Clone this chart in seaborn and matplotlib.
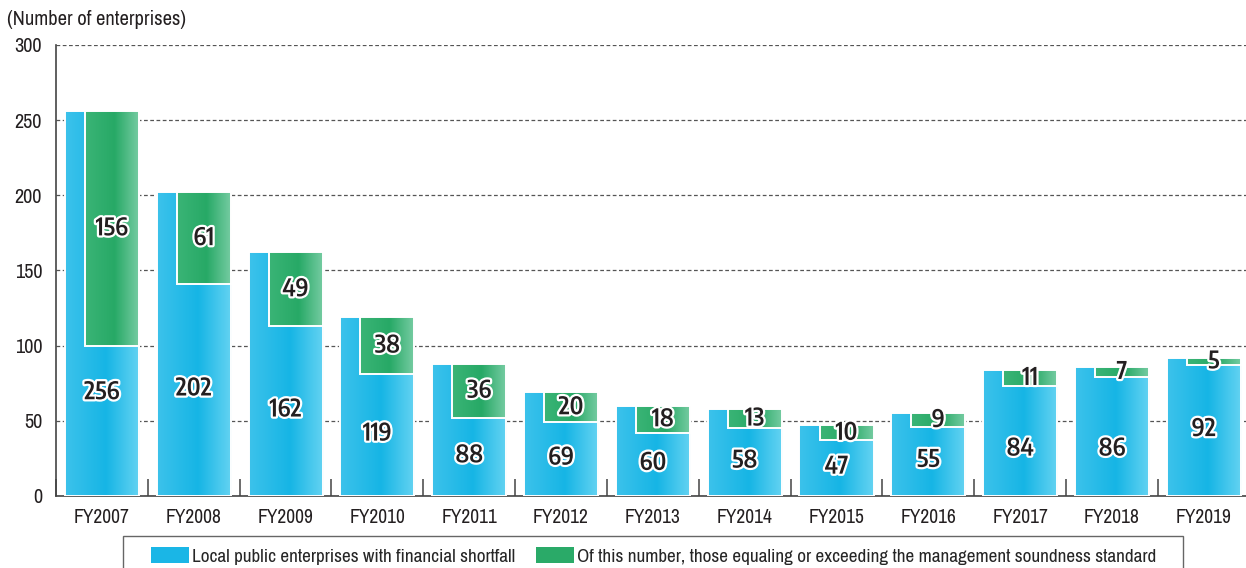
import numpy as np
import pandas as pd
import matplotlib
matplotlib.use("Agg")
import matplotlib.pyplot as plt
import matplotlib.patheffects as pe
from matplotlib import font_manager
from matplotlib.colors import LinearSegmentedColormap
from matplotlib.patches import Patch, Rectangle
import seaborn as sns

years = ["FY2007", "FY2008", "FY2009", "FY2010", "FY2011", "FY2012", "FY2013",
         "FY2014", "FY2015", "FY2016", "FY2017", "FY2018", "FY2019"]
shortfall = [256, 202, 162, 119, 88, 69, 60, 58, 47, 55, 84, 86, 92]
over_standard = [156, 61, 49, 38, 36, 20, 18, 13, 10, 9, 11, 7, 5]

legend_labels = ["Local public enterprises with financial shortfall",
                 "Of this number, those equaling or exceeding the management soundness standard"]

BLUE = "#1ab6e6"
GREEN = "#2aaa68"
blue_grad = LinearSegmentedColormap.from_list(
    "blue_grad", [(0, "#3cc2eb"), (0.55, "#16b5e5"), (1, "#64d3f2")])
green_grad = LinearSegmentedColormap.from_list(
    "green_grad", [(0, "#3ab476"), (0.55, "#27a966"), (1, "#74cba1")])

sns.set_theme(style="white")

installed = {f.name for f in font_manager.fontManager.ttflist}


def first_font(*names):
    for n in names:
        if n in installed:
            return n
    return "DejaVu Sans"


TEXT_FONT = first_font("Archivo Narrow", "Roboto Condensed", "Encode Sans Condensed")
LABEL_FONT = first_font("Encode Sans Condensed", "Roboto Condensed", "Barlow Condensed")
plt.rcParams["font.family"] = [TEXT_FONT, "DejaVu Sans"]

df = pd.DataFrame({"year": years, "total": shortfall, "over": over_standard})
df["base"] = df["total"] - df["over"]

fig = plt.figure(figsize=(12.46, 5.68), dpi=100)
ax = fig.add_axes([0.0449, 0.1268, 0.9581, 0.794])

BAR_W = 0.806
sns.barplot(data=df, x="year", y="total", color=BLUE, saturation=1,
            width=BAR_W, edgecolor="white", linewidth=1.4, ax=ax, zorder=3)
blue_patches = list(ax.patches)

# green segment hangs from the top of each bar, on its right-hand part
G_LEFT, G_RIGHT = -0.185, 0.403
xpos = np.arange(len(years))
green_bars = ax.bar(xpos + (G_LEFT + G_RIGHT) / 2, df["over"], bottom=df["base"],
                    width=G_RIGHT - G_LEFT, color=GREEN, edgecolor="white",
                    linewidth=1.4, zorder=5)


def shade(patch, cmap, z):
    x0, y0 = patch.get_x(), patch.get_y()
    w, h = patch.get_width(), patch.get_height()
    grad = np.linspace(0, 1, 64).reshape(1, -1)
    im = ax.imshow(grad, cmap=cmap, aspect="auto", extent=(x0, x0 + w, y0, y0 + h),
                   origin="lower", zorder=z, interpolation="bilinear")
    im.set_clip_path(patch)
    patch.set_facecolor("none")


for p in blue_patches:
    p.set_zorder(3)
    shade(p, blue_grad, 2.9)
for p in green_bars.patches:
    shade(p, green_grad, 4.9)

outline = [pe.withStroke(linewidth=3.2, foreground="white")]
label_kw = dict(ha="center", va="center", fontsize=17.5, fontweight=600,
                family=[LABEL_FONT, "DejaVu Sans"], color="#231f20",
                path_effects=outline, zorder=7)
label_shift = {0: 18, 10: -6, 11: -9}
for i, row in df.iterrows():
    yb = row["base"] / 2 + 1 + label_shift.get(i, 0)
    ax.text(i, yb, f"{row['total']}", **label_kw)
    yg = row["base"] + row["over"] / 2
    ax.text(i + (G_LEFT + G_RIGHT) / 2, yg, f"{row['over']}", **label_kw)

ax.set_xlim(-0.5, 12.5)
ax.set_ylim(0, 300)
ax.set_yticks(np.arange(0, 301, 50))
ax.set_xlabel("")
ax.set_ylabel("")
ax.grid(axis="y", color="#555555", linestyle=(0, (3, 2)), linewidth=0.9, zorder=0)
ax.set_axisbelow(True)
for s in ["top", "right"]:
    ax.spines[s].set_visible(False)
for s in ["left", "bottom"]:
    ax.spines[s].set_color("#444444")
    ax.spines[s].set_linewidth(1.2)
ax.tick_params(axis="y", length=0, pad=10, labelsize=14.5, labelcolor="#231f20")
ax.tick_params(axis="x", which="major", length=0, pad=9, labelsize=14,
               labelcolor="#231f20")
ax.set_xticks(np.arange(-0.5, 12.6, 1), minor=True)
ax.tick_params(axis="x", which="minor", bottom=True, direction="in", length=12,
               width=1.1, color="#444444")

fig.text(0.006, 0.965, "(Number of enterprises)", fontsize=14.8, color="#231f20",
         va="center", ha="left")

# legend: entries centred in a wide box that runs off the bottom edge
fig.patches.append(Rectangle((0.0987, -0.05), 0.8507, 0.1065, transform=fig.transFigure,
                             facecolor="white", edgecolor="#666666", linewidth=1.0,
                             zorder=1))
handles = [Patch(facecolor=BLUE, edgecolor="none"), Patch(facecolor=GREEN, edgecolor="none")]
leg = fig.legend(handles, legend_labels, loc="center", ncol=2,
                 bbox_to_anchor=(0.5245, 0.021), frameon=False,
                 fontsize=13.8, handlelength=1.98, handleheight=0.89,
                 handletextpad=0.15, columnspacing=1.1, borderpad=0.2,
                 borderaxespad=0)
leg.set_zorder(2)

fig.savefig("out.png", dpi=100)
